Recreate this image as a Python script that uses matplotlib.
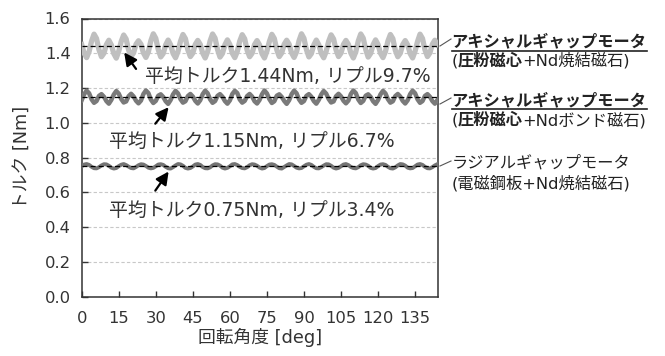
import numpy as np
import matplotlib
matplotlib.use("Agg")
import matplotlib.pyplot as plt
from matplotlib.lines import Line2D

plt.rcParams['font.family'] = ['DejaVu Sans', 'Noto Sans CJK JP']

# rotation angle [deg], 1 deg steps
angle = np.arange(0, 145)

# axial gap motor, SMC core + sintered Nd magnet
torque_axial_sintered = [
    1.450, 1.400, 1.375, 1.410, 1.470, 1.510, 1.485, 1.420, 1.380, 1.400, 1.450, 1.475,
    1.448, 1.398, 1.372, 1.412, 1.468, 1.505, 1.482, 1.418, 1.382, 1.402, 1.452, 1.472,
    1.452, 1.402, 1.376, 1.408, 1.472, 1.512, 1.486, 1.421, 1.379, 1.398, 1.448, 1.476,
    1.449, 1.399, 1.374, 1.411, 1.469, 1.508, 1.484, 1.419, 1.381, 1.401, 1.451, 1.474,
    1.451, 1.401, 1.373, 1.409, 1.471, 1.511, 1.487, 1.422, 1.378, 1.399, 1.449, 1.477,
    1.450, 1.400, 1.375, 1.410, 1.470, 1.507, 1.483, 1.417, 1.380, 1.400, 1.450, 1.473,
    1.448, 1.398, 1.373, 1.412, 1.468, 1.509, 1.485, 1.420, 1.381, 1.402, 1.452, 1.475,
    1.452, 1.402, 1.376, 1.408, 1.472, 1.512, 1.486, 1.421, 1.379, 1.398, 1.448, 1.476,
    1.449, 1.399, 1.374, 1.411, 1.469, 1.506, 1.482, 1.419, 1.381, 1.401, 1.451, 1.474,
    1.451, 1.401, 1.373, 1.409, 1.471, 1.511, 1.487, 1.422, 1.378, 1.399, 1.449, 1.477,
    1.450, 1.400, 1.375, 1.410, 1.470, 1.508, 1.484, 1.417, 1.380, 1.400, 1.450, 1.473,
    1.448, 1.398, 1.373, 1.412, 1.468, 1.510, 1.485, 1.420, 1.381, 1.402, 1.452, 1.475,
    1.450,
]

# axial gap motor, SMC core + bonded Nd magnet
torque_axial_bonded = [
    1.130, 1.165, 1.185, 1.170, 1.135, 1.115, 1.125, 1.155, 1.165, 1.150, 1.125, 1.110,
    1.132, 1.163, 1.183, 1.168, 1.137, 1.117, 1.123, 1.153, 1.167, 1.152, 1.127, 1.112,
    1.128, 1.166, 1.186, 1.171, 1.134, 1.114, 1.126, 1.156, 1.164, 1.149, 1.124, 1.109,
    1.131, 1.164, 1.184, 1.169, 1.136, 1.116, 1.124, 1.154, 1.166, 1.151, 1.126, 1.111,
    1.130, 1.165, 1.185, 1.170, 1.135, 1.115, 1.125, 1.155, 1.165, 1.150, 1.125, 1.110,
    1.129, 1.166, 1.184, 1.171, 1.134, 1.116, 1.126, 1.154, 1.166, 1.151, 1.124, 1.111,
    1.131, 1.164, 1.186, 1.169, 1.136, 1.114, 1.124, 1.156, 1.164, 1.149, 1.126, 1.109,
    1.130, 1.165, 1.185, 1.170, 1.135, 1.115, 1.125, 1.155, 1.165, 1.150, 1.125, 1.110,
    1.132, 1.163, 1.183, 1.168, 1.137, 1.117, 1.123, 1.153, 1.167, 1.152, 1.127, 1.112,
    1.128, 1.166, 1.186, 1.171, 1.134, 1.114, 1.126, 1.156, 1.164, 1.149, 1.124, 1.109,
    1.131, 1.164, 1.184, 1.169, 1.136, 1.116, 1.124, 1.154, 1.166, 1.151, 1.126, 1.111,
    1.130, 1.165, 1.185, 1.170, 1.135, 1.115, 1.125, 1.155, 1.165, 1.150, 1.125, 1.110,
    1.130,
]

# radial gap motor, electrical steel + sintered Nd magnet
torque_radial = [
    0.750, 0.760, 0.763, 0.758, 0.747, 0.739, 0.738, 0.745, 0.755, 0.762, 0.761, 0.753, 0.742, 0.737, 0.740,
    0.751, 0.759, 0.763, 0.757, 0.748, 0.740, 0.738, 0.746, 0.756, 0.762, 0.760, 0.752, 0.742, 0.738, 0.741,
    0.750, 0.760, 0.762, 0.758, 0.747, 0.739, 0.737, 0.745, 0.755, 0.763, 0.761, 0.753, 0.741, 0.737, 0.740,
    0.749, 0.760, 0.763, 0.758, 0.746, 0.739, 0.738, 0.744, 0.755, 0.762, 0.761, 0.754, 0.742, 0.737, 0.741,
    0.750, 0.761, 0.763, 0.757, 0.747, 0.740, 0.738, 0.745, 0.756, 0.762, 0.760, 0.753, 0.743, 0.737, 0.740,
    0.751, 0.760, 0.762, 0.758, 0.748, 0.739, 0.737, 0.746, 0.755, 0.763, 0.761, 0.752, 0.742, 0.738, 0.740,
    0.750, 0.759, 0.763, 0.758, 0.747, 0.739, 0.738, 0.745, 0.754, 0.762, 0.761, 0.753, 0.742, 0.737, 0.741,
    0.750, 0.760, 0.763, 0.757, 0.746, 0.740, 0.738, 0.745, 0.756, 0.762, 0.760, 0.753, 0.741, 0.737, 0.740,
    0.751, 0.760, 0.762, 0.758, 0.747, 0.739, 0.737, 0.744, 0.755, 0.763, 0.761, 0.754, 0.742, 0.738, 0.740,
    0.750, 0.760, 0.763, 0.758, 0.747, 0.739, 0.738, 0.745, 0.755, 0.762,
]

mean_torque = [1.44, 1.15, 0.75]
ripple_pct = [9.7, 6.7, 3.4]
curve_colors = ['#bfbfbf', '#7a7a7a', '#747474']
curve_widths = [3.8, 3.2, 2.8]

x_ticks = list(range(0, 136, 15))
y_ticks = [0.0, 0.2, 0.4, 0.6, 0.8, 1.0, 1.2, 1.4, 1.6]

W, H = 665, 356
fig = plt.figure(figsize=(W / 100, H / 100), dpi=100)
ax = fig.add_axes([81.7 / W, 1 - 296.7 / H, (438.3 - 81.7) / W, (296.7 - 18.5) / H])


def fx(px):
    return px / W


def fy(py):
    return 1 - py / H


series = [torque_axial_sintered, torque_axial_bonded, torque_radial]
for vals, c, lw in zip(series, curve_colors, curve_widths):
    ax.plot(angle, vals, color=c, lw=lw, solid_joinstyle='round', zorder=3)

for m in mean_torque:
    ax.axhline(m, color='black', lw=0.9, ls=(0, (4, 2.5)), zorder=4)

ax.set_xlim(0, 144.4)
ax.set_ylim(0, 1.6)
ax.set_xticks(x_ticks)
ax.set_yticks(y_ticks)
ax.yaxis.set_major_formatter(plt.FormatStrFormatter('%.1f'))
ax.tick_params(direction='in', length=4, width=1, labelsize=11.8, colors='#333333')
ax.tick_params(axis='x', pad=10)
ax.tick_params(axis='y', pad=8)
ax.grid(axis='y', color='#c8c8c8', ls=(0, (3, 2)), lw=0.8)
ax.set_axisbelow(True)
for s in ax.spines.values():
    s.set_color('#333333')
    s.set_linewidth(1.1)

ax.set_xlabel('回転角度 [deg]', fontsize=12.8, labelpad=2, color='#333333')
ax.set_ylabel('トルク [Nm]', fontsize=12.8, labelpad=10, color='#333333')

# mean torque / ripple labels with arrows
ann_text = [(25.7, 1.268), (11.1, 0.891), (11.1, 0.494)]
arrow_tip = [(17.2, 1.405), (35.2, 1.09), (35.2, 0.72)]
arrow_tail = [(22.0, 1.31), (29.8, 0.995), (29.8, 0.61)]
for m, r, (tx, ty), tip, tail in zip(mean_torque, ripple_pct, ann_text, arrow_tip, arrow_tail):
    ax.text(tx, ty, f'平均トルク{m:.2f}Nm, リプル{r}%', fontsize=13.6,
            va='center', ha='left', color='#333333', zorder=5)
    ax.annotate('', xy=tip, xytext=tail,
                arrowprops=dict(arrowstyle='-|>', color='black', lw=1.6,
                                mutation_scale=19, shrinkA=0, shrinkB=0), zorder=5)

# leader lines and motor names on the right
label_y = [(41.7, 60.7), (100.0, 120.0), (163.0, 183.0)]
leaders = [((440, 46), (451, 39)), ((440, 104), (451, 98)), ((440, 166), (451, 161))]
fs = 11.7
for (p0, p1) in leaders:
    fig.add_artist(Line2D([fx(p0[0]), fx(p1[0])], [fy(p0[1]), fy(p1[1])],
                          color='#555555', lw=0.8))

x0 = 451.5
t_title = []
for i, (y1, y2) in enumerate(label_y):
    bold = i < 2
    t = fig.text(fx(x0), fy(y1), 'アキシャルギャップモータ' if bold else 'ラジアルギャップモータ',
                 fontsize=fs, fontweight='bold' if bold else 'normal', va='center', ha='left',
                 color='#222222')
    t_title.append((t, bold))

fig.canvas.draw()
renderer = fig.canvas.get_renderer()
for t, bold in t_title:
    if bold:
        bb = t.get_window_extent(renderer)
        fig.add_artist(Line2D([bb.x0 / W, bb.x1 / W], [bb.y0 / H - 0.004, bb.y0 / H - 0.004],
                              color='#222222', lw=1.2))

# second line of each label, bold only on the core material
sub_parts = [
    [('(', False), ('圧粉磁心', True), ('+Nd焼結磁石)', False)],
    [('(', False), ('圧粉磁心', True), ('+Ndボンド磁石)', False)],
    [('(電磁鋼板+Nd焼結磁石)', False)],
]
for parts, (y1, y2) in zip(sub_parts, label_y):
    xpos = x0
    for txt, b in parts:
        t = fig.text(fx(xpos), fy(y2), txt, fontsize=fs, fontweight='bold' if b else 'normal',
                     va='center', ha='left', color='#222222')
        fig.canvas.draw()
        bb = t.get_window_extent(renderer)
        xpos += bb.width

fig.savefig('out.png', dpi=100)
